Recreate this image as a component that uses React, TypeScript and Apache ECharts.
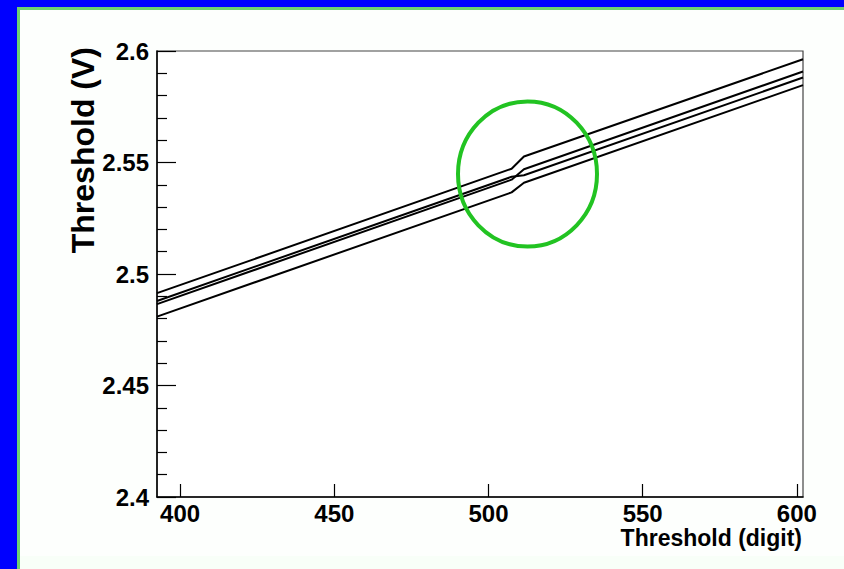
import React, { useEffect, useRef } from "react";
import * as echarts from "echarts";

const xDigits = [392.5, 507.5, 511.5, 602];
const line1 = [2.4914, 2.5472, 2.5527, 2.5963];
const line2 = [2.4879, 2.5436, 2.5443, 2.5881];
const line3 = [2.4865, 2.5423, 2.547, 2.5908];
const line4 = [2.4809, 2.5366, 2.5409, 2.5847];
const xTickValues = [400, 450, 500, 550, 600];
const seriesList = [line1, line2, line3, line4];

const FONT = "Liberation Sans, Arial, Helvetica, sans-serif";

export default function App() {
  const ref = useRef<HTMLDivElement>(null);
  useEffect(() => {
    if (!ref.current) return;
    const chart = echarts.init(ref.current, null, { renderer: "svg" });
    chart.setOption({
      animation: false,
      backgroundColor: "#fdfffd",
      grid: {
        left: 157,
        right: 41,
        top: 51,
        bottom: 72,
        show: true,
        borderColor: "#444",
        borderWidth: 1.2,
        backgroundColor: "#ffffff",
        outerBoundsMode: "none",
      },
      xAxis: {
        type: "value",
        min: 392.5,
        max: 602,
        axisLine: { show: true, onZero: false, lineStyle: { color: "#000", width: 1.5 } },
        axisTick: {
          show: true,
          inside: true,
          length: 13,
          customValues: xTickValues,
          lineStyle: { color: "#000", width: 1.2 },
        },
        axisLabel: {
          customValues: xTickValues,
          margin: 4,
          color: "#000",
          fontSize: 24,
          fontWeight: "bold",
          fontFamily: FONT,
        },
        splitLine: { show: false },
      },
      yAxis: {
        type: "value",
        min: 2.4,
        max: 2.6,
        interval: 0.05,
        axisLine: { show: true, onZero: false, lineStyle: { color: "#000", width: 1.5 } },
        axisTick: { show: true, inside: true, length: 19, lineStyle: { color: "#000", width: 1.2 } },
        minorTick: { show: true, splitNumber: 5, length: 10, lineStyle: { color: "#000", width: 1.2 } },
        axisLabel: {
          margin: 8,
          color: "#000",
          fontSize: 24,
          fontWeight: "bold",
          fontFamily: FONT,
        },
        splitLine: { show: false },
        minorSplitLine: { show: false },
      },
      series: seriesList.map((vals, i) => ({
        name: "line" + (i + 1),
        type: "line",
        data: xDigits.map((x, j) => [x, vals[j]]),
        symbol: "none",
        lineStyle: { color: "#000", width: 2 },
        z: 3,
      })),
      graphic: [
        { type: "rect", shape: { x: 0, y: 0, width: 844, height: 7 }, style: { fill: "#0000ff" }, z: 10 },
        { type: "rect", shape: { x: 0, y: 0, width: 17, height: 569 }, style: { fill: "#0000ff" }, z: 10 },
        { type: "rect", shape: { x: 17, y: 7, width: 827, height: 3 }, style: { fill: "#6fd06f" }, z: 10 },
        { type: "rect", shape: { x: 17, y: 7, width: 3, height: 562 }, style: { fill: "#6fd06f" }, z: 10 },
        { type: "rect", shape: { x: 830, y: 10, width: 14, height: 559 }, style: { fill: "#fdfffd" }, z: 9 },
        { type: "rect", shape: { x: 20, y: 556, width: 824, height: 13 }, style: { fill: "#f8fff8" }, z: 9 },
        {
          type: "ellipse",
          shape: { cx: 527.5, cy: 174, rx: 69.5, ry: 72.5 },
          style: { fill: "none", stroke: "#22c322", lineWidth: 4 },
          z: 20,
        },
        {
          type: "text",
          x: 802,
          y: 526,
          style: {
            text: "Threshold (digit)",
            align: "right",
            verticalAlign: "top",
            fill: "#000",
            font: "bold 23px " + FONT,
          },
          z: 20,
        },
        {
          type: "text",
          x: 83,
          y: 47,
          rotation: Math.PI / 2,
          style: {
            text: "Threshold (V)",
            align: "right",
            verticalAlign: "middle",
            fill: "#000",
            font: "bold 32px " + FONT,
          },
          z: 20,
        },
      ],
    });
    return () => chart.dispose();
  }, []);
  return (
    <div
      ref={ref}
      style={{ position: "fixed", left: 0, top: 0, width: 844, height: 569 }}
    />
  );
}
